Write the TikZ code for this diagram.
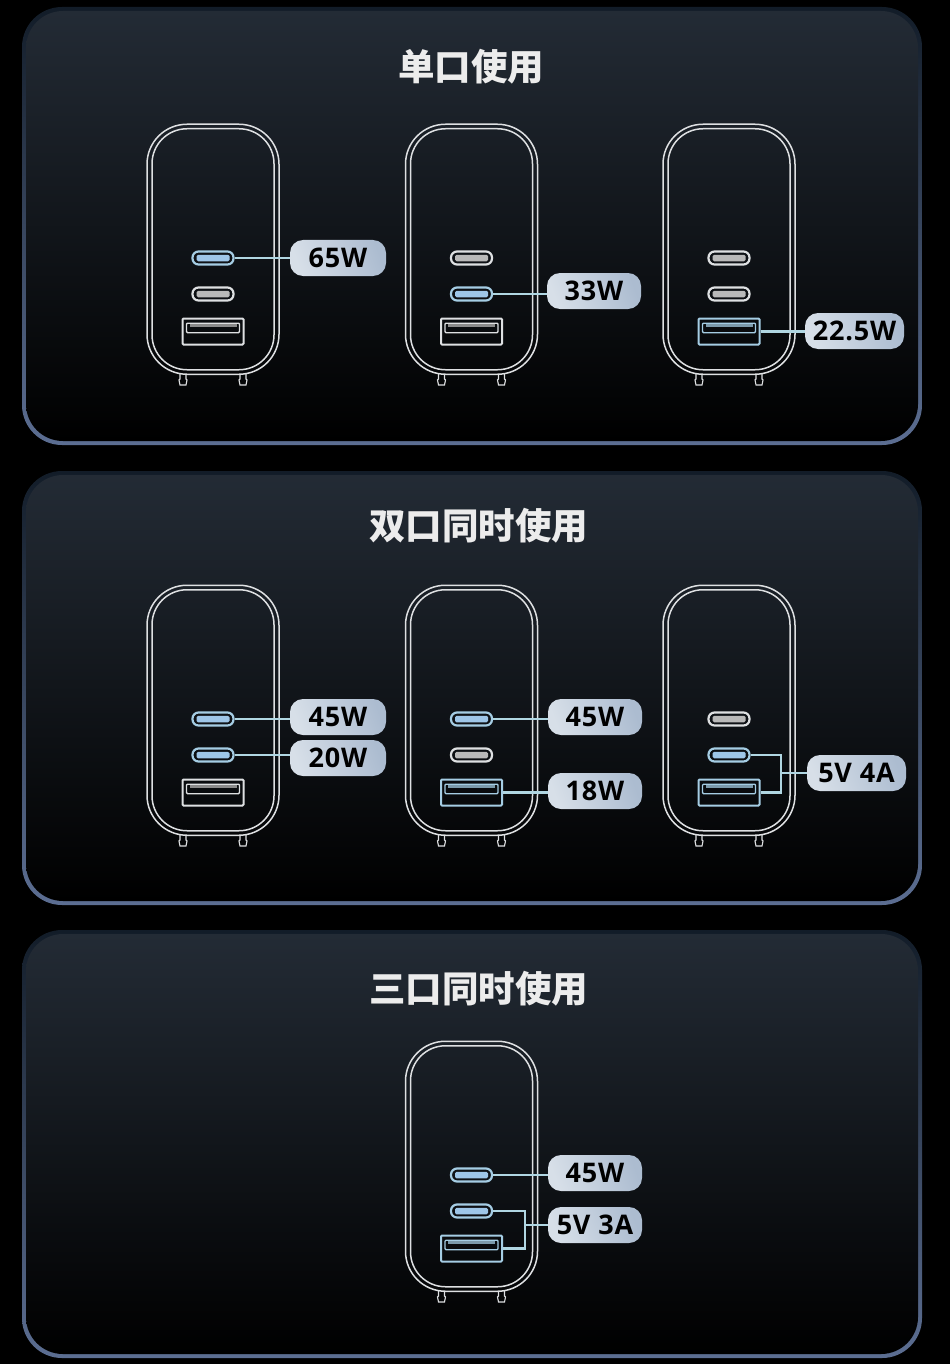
\documentclass[tikz,border=0pt]{standalone}
\usepackage{fontspec}
\usepackage{xcolor}
\usepackage{tikz}
\setmainfont[LetterSpace=3]{Open Sans}
\newfontfamily\cjkfont{Noto Sans CJK SC}
\definecolor{PanelTop}{RGB}{35,43,53}
\definecolor{PanelMid}{RGB}{13,18,24}
\definecolor{EdgeTop}{RGB}{18,28,40}
\definecolor{EdgeMid}{RGB}{24,34,48}
\definecolor{EdgeLow}{RGB}{92,110,146}
\definecolor{LineGrey}{RGB}{222,224,226}
\definecolor{PortOn}{RGB}{165,205,228}
\definecolor{LinkOn}{RGB}{176,214,226}
\definecolor{BarOn}{RGB}{158,198,232}
\definecolor{BarOff}{RGB}{185,185,185}
\definecolor{PillLight}{RGB}{215,223,232}
\definecolor{PillDark}{RGB}{172,188,208}
\definecolor{TitleGrey}{RGB}{236,236,236}
\tikzset{
  paneledge/.style={rounded corners=40pt,inner sep=0pt,minimum width=900pt,
    top color=EdgeTop,middle color=EdgeMid,bottom color=EdgeLow},
  panelback/.style={rounded corners=37pt,inner sep=0pt,minimum width=892pt,
    top color=PanelTop,middle color=PanelMid,bottom color=black},
  paneltitle/.style={text=TitleGrey,font=\cjkfont\bfseries\fontsize{36.5}{40}\selectfont},
  chargerouter/.style={draw=LineGrey,line width=1.5pt,rounded corners=40pt,
    minimum width=132pt,minimum height=250pt,inner sep=0pt},
  chargerinner/.style={draw=LineGrey,line width=1.5pt,rounded corners=35pt,
    minimum width=122pt,minimum height=241pt,inner sep=0pt},
  portoff/.style={draw=LineGrey,line width=2.2pt,rounded corners=6pt,
    minimum width=41pt,minimum height=13pt,inner sep=0pt},
  porton/.style={portoff,draw=PortOn},
  baroff/.style={fill=BarOff,rounded corners=1.5pt,minimum width=33pt,minimum height=6.5pt,inner sep=0pt},
  baron/.style={baroff,fill=BarOn},
  usboff/.style={draw=LineGrey,line width=2pt,rounded corners=1pt,minimum width=61pt,minimum height=26pt,inner sep=0pt},
  usbon/.style={usboff,draw=PortOn},
  taboff/.style={draw=LineGrey,line width=1.3pt,rounded corners=1pt,minimum width=53pt,minimum height=9.5pt,inner sep=0pt},
  tabon/.style={taboff,draw=PortOn},
  slotoff/.style={fill=BarOff!75!black,minimum width=47pt,minimum height=2.5pt,inner sep=0pt},
  sloton/.style={slotoff,fill=PortOn!75!black},
  powerpill/.style={rounded corners=13pt,inner sep=0pt,minimum height=36pt,
    shading=axis,left color=PillLight,right color=PillDark,shading angle=110,
    text=black,font=\bfseries\fontsize{27}{30}\selectfont},
  powerlink/.style={draw=LinkOn,line width=2.8pt},
  prong/.style={draw=LineGrey,line width=1.1pt}
}
% name, centre x, top y, first port, second port, usb port (on or off)
\newcommand{\charger}[6]{%
  \node[chargerouter,anchor=north] (#1-body) at (#2,#3-0.5) {};
  \node[chargerinner] (#1-core) at (#1-body.center) {};
  \node[port#4] (#1-c1) at (#2,#3+134) {};
  \node[bar#4] at (#1-c1) {};
  \node[port#5] (#1-c2) at (#2,#3+170) {};
  \node[bar#5] at (#1-c2) {};
  \node[usb#6] (#1-usb) at (#2,#3+207.5) {};
  \node[tab#6,anchor=north] at (#2,#3+198.5) {};
  \node[slot#6] at (#2,#3+201.5) {};
  \draw[prong] (#2-33,#3+250) -- ++(0,5) -- ++(-1,1) -- ++(1,5) -- ++(6,0) -- ++(1,-5) -- ++(-1,-1) -- ++(0,-5);
  \draw[prong] (#2+27,#3+250) -- ++(0,5) -- ++(-1,1) -- ++(1,5) -- ++(6,0) -- ++(1,-5) -- ++(-1,-1) -- ++(0,-5);
}
\begin{document}
\begin{tikzpicture}[x=1pt,y=-1pt]
  \useasboundingbox[fill=black] (0,0) rectangle (950,1364);

  % panels
  \node[paneledge,minimum height=438pt] (edgeA) at (472,226) {};
  \node[panelback,minimum height=430pt] (panelA) at (edgeA.center) {};
  \node[paneledge,minimum height=434pt] (edgeB) at (472,688) {};
  \node[panelback,minimum height=426pt] (panelB) at (edgeB.center) {};
  \node[paneledge,minimum height=428pt] (edgeC) at (472,1144) {};
  \node[panelback,minimum height=420pt] (panelC) at (edgeC.center) {};

  \node[paneltitle] (titleA) at (471,67) {单口使用};
  \node[paneltitle] (titleB) at (478.5,525.5) {双口同时使用};
  \node[paneltitle] (titleC) at (478.5,989) {三口同时使用};

  % single port
  \charger{a1}{213}{124}{on}{off}{off}
  \charger{a2}{471.5}{124}{off}{on}{off}
  \charger{a3}{729}{124}{off}{off}{on}
  \node[powerpill,minimum width=96pt] (pa1) at (338,258) {65W};
  \node[powerpill,minimum width=94pt] (pa2) at (594,291) {33W};
  \node[powerpill,minimum width=99pt] (pa3) at (854.5,331) {22.5W};
  \draw[powerlink] (a1-c1.east) -- (pa1.west |- a1-c1.east);
  \draw[powerlink] (a2-c2.east) -- (pa2.west |- a2-c2.east);
  \draw[powerlink] (a3-usb.east) -- (pa3.west |- a3-usb.east);

  % two ports
  \charger{b1}{213}{585}{on}{on}{off}
  \charger{b2}{471.5}{585}{on}{off}{on}
  \charger{b3}{729}{585}{off}{on}{on}
  \node[powerpill,minimum width=96pt] (pb1) at (338,717) {45W};
  \node[powerpill,minimum width=96pt] (pb2) at (338,758) {20W};
  \node[powerpill,minimum width=94pt] (pb3) at (595,717) {45W};
  \node[powerpill,minimum width=94pt] (pb4) at (595,791) {18W};
  \node[powerpill,minimum width=99pt] (pb5) at (856.5,773) {5V 4A};
  \coordinate (jb) at (781,773);
  \draw[powerlink] (b1-c1.east) -- (pb1.west |- b1-c1.east);
  \draw[powerlink] (b1-c2.east) -- (pb2.west |- b1-c2.east);
  \draw[powerlink] (b2-c1.east) -- (pb3.west |- b2-c1.east);
  \draw[powerlink] (b2-usb.east) -- (pb4.west |- b2-usb.east);
  \draw[powerlink] (b3-c2.east) -| (jb) |- (b3-usb.east);
  \draw[powerlink] (jb) -- (pb5.west);

  % three ports
  \charger{c1}{471.5}{1041}{on}{on}{on}
  \node[powerpill,minimum width=94pt] (pc1) at (595,1173) {45W};
  \node[powerpill,minimum width=94pt] (pc2) at (595,1225) {5V 3A};
  \coordinate (jc) at (525,1225);
  \draw[powerlink] (c1-c1.east) -- (pc1.west |- c1-c1.east);
  \draw[powerlink] (c1-c2.east) -| (jc) |- (c1-usb.east);
  \draw[powerlink] (jc) -- (pc2.west);
\end{tikzpicture}
\end{document}
